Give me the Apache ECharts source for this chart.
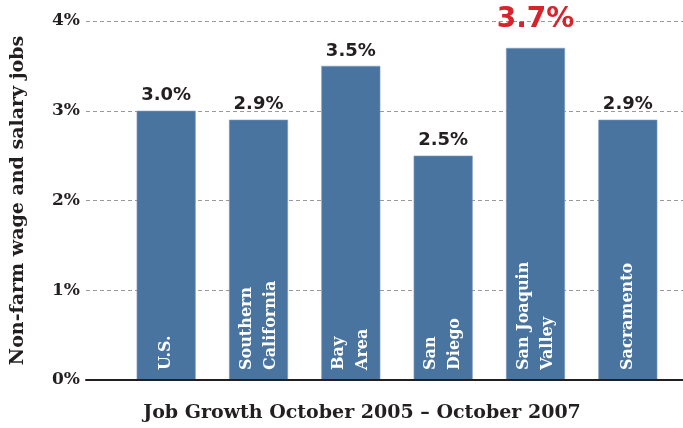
<!DOCTYPE html>
<html>
<head>
<meta charset="utf-8">
<script src="https://cdn.jsdelivr.net/npm/echarts@6/dist/echarts.min.js"></script>
<style>
  html, body { margin: 0; padding: 0; background: #fff; }
  #main { width: 683px; height: 428px; }
</style>
</head>
<body>
<div id="main"></div>
<script>
// regions and job growth (%)
const regions = ['U.S.', 'Southern\nCalifornia', 'Bay\nArea', 'San\nDiego', 'San Joaquin\nValley', 'Sacramento'];
const growth = [3.0, 2.9, 3.5, 2.5, 3.7, 2.9];
const highlight = 'San Joaquin\nValley';
const yTicks = [0, 1, 2, 3, 4];

const slab = 'DejaVu Serif';
const sans = 'DejaVu Sans';
const chart = echarts.init(document.getElementById('main'));

const data = growth.map((v, i) => {
  const hot = regions[i] === highlight;
  return {
    value: v,
    label: hot ? { color: '#d7232b', fontSize: 28, distance: 14 } : {}
  };
});

chart.setOption({
  animation: false,
  title: {
    text: 'Job Growth October 2005 \u2013 October 2007',
    left: 357, top: 399, textAlign: 'center',
    textStyle: { fontFamily: slab, fontWeight: 'bold', fontSize: 19, color: '#231f20' }
  },
  grid: [
    { left: 86, right: 0, top: 21, bottom: 48 },
    { left: 120, right: 9, top: 21, bottom: 48 }
  ],
  xAxis: [
    {
      gridIndex: 0, type: 'category', data: [''], z: 10,
      axisLine: { lineStyle: { color: '#231f20', width: 2 } },
      axisTick: { show: false }, axisLabel: { show: false }
    },
    {
      gridIndex: 1, type: 'category', data: regions,
      axisLine: { show: false }, axisTick: { show: false }, axisLabel: { show: false }
    }
  ],
  yAxis: [
    {
      gridIndex: 0, type: 'value', min: 0, max: 4, interval: 1,
      name: 'Non-farm wage and salary jobs',
      nameLocation: 'middle', nameGap: 58,
      nameTextStyle: { fontFamily: slab, fontWeight: 'bold', fontSize: 19, color: '#231f20' },
      axisLine: { show: false }, axisTick: { show: false },
      axisLabel: {
        margin: 6, fontFamily: slab, fontWeight: 'bold', fontSize: 17, color: '#231f20',
        formatter: v => yTicks.includes(v) ? v + '%' : ''
      },
      splitLine: { lineStyle: { color: '#9a9a9a', type: [4, 3], width: 1 } }
    },
    {
      gridIndex: 1, type: 'value', min: 0, max: 4, interval: 1,
      axisLine: { show: false }, axisTick: { show: false },
      axisLabel: { show: false }, splitLine: { show: false }
    }
  ],
  series: [
    {
      type: 'bar', xAxisIndex: 1, yAxisIndex: 1,
      barWidth: 59,
      data,
      itemStyle: { color: '#4a74a0', borderColor: '#7d9bbd', borderWidth: 0.6 },
      label: {
        show: true, position: 'top', distance: 6,
        fontFamily: sans, fontWeight: 'bold', fontSize: 18, color: '#231f20',
        formatter: p => p.value.toFixed(1) + '%'
      }
    },
    {
      // category names written inside the bars
      type: 'bar', xAxisIndex: 1, yAxisIndex: 1,
      barWidth: 59, barGap: '-100%',
      data: growth,
      itemStyle: { color: 'transparent' },
      label: {
        show: true, position: 'insideBottom', rotate: 90,
        align: 'left', verticalAlign: 'middle', distance: 10,
        fontFamily: slab, fontWeight: 'bold', fontSize: 16, lineHeight: 24, color: '#fff',
        formatter: p => p.name
      }
    }
  ]
});
</script>
</body>
</html>
